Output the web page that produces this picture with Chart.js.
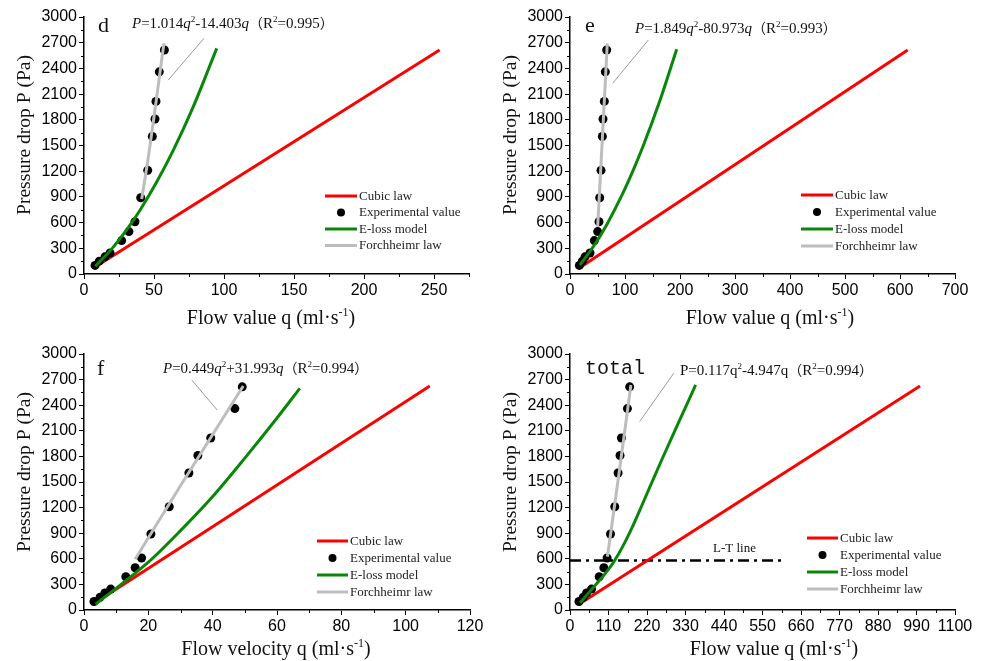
<!DOCTYPE html>
<html>
<head>
<meta charset="utf-8">
<script src="https://cdn.jsdelivr.net/npm/chart.js@4.4.1/dist/chart.umd.min.js"></script>
<style>
  body { margin: 0; background: #fff; }
  #wrap { position: relative; width: 983px; height: 661px; overflow: hidden; }
  canvas { position: absolute; }
</style>
</head>
<body>
<div id="wrap">
  <canvas id="cd" width="490" height="330" style="left:0px;top:0px"></canvas>
  <canvas id="ce" width="493" height="330" style="left:490px;top:0px"></canvas>
  <canvas id="cf" width="490" height="331" style="left:0px;top:330px"></canvas>
  <canvas id="ct" width="493" height="331" style="left:490px;top:330px"></canvas>
</div>
<script>
// ticks
const yTicks = [0, 300, 600, 900, 1200, 1500, 1800, 2100, 2400, 2700, 3000];
const xTicksD = [0, 50, 100, 150, 200, 250];
const xTicksE = [0, 100, 200, 300, 400, 500, 600, 700];
const xTicksF = [0, 20, 40, 60, 80, 100, 120];
const xTicksT = [0, 110, 220, 330, 440, 550, 660, 770, 880, 990, 1100];
const legendLabels = ['Cubic law', 'Experimental value', 'E-loss model', 'Forchheimr law'];

// measured pressure drop (Pa), same for every panel
const expP = [100, 150, 200, 245, 390, 495, 610, 890, 1210, 1605, 1810, 2015, 2360, 2615];

// panel d
const expQD = [7.9, 10.9, 15, 18.6, 26.9, 32.1, 36.4, 40.5, 45.5, 48.8, 50.7, 51.4, 53.8, 57.4];
const cubicQD = [9, 254];
const cubicPD = [93, 2614];
const elossQD = [8, 20, 30, 40, 52, 64, 78, 94.8];
const elossPD = [90, 296, 505, 745, 1076, 1452, 1950, 2634];
const forchQD = [41.2, 46, 50, 57.1];
const forchPD = [875, 1369, 1836, 2693];

// panel e
const expQE = [17, 22.4, 27.3, 36.4, 44.2, 50.3, 52.7, 54, 56.4, 58.8, 60, 62.4, 64.2, 66.7];
const cubicQE = [21, 614];
const cubicPE = [89, 2614];
const elossQE = [18, 45, 67, 94, 115, 133, 164, 194];
const elossPE = [105, 344, 579, 915, 1213, 1494, 2034, 2623];
const forchQE = [50.3, 59, 67.8];
const forchPE = [552, 1600, 2693];

// panel f
const expQF = [3.1, 5, 6.5, 8.3, 13, 15.9, 17.9, 20.8, 26.5, 32.6, 35.4, 39.4, 46.9, 49.2];
const cubicQF = [3.5, 107.5];
const cubicPF = [85, 2625];
const elossQF = [3.6, 20, 30, 40, 50, 60, 67.1];
const elossPF = [67, 560, 930, 1330, 1780, 2250, 2598];
const forchQF = [15.9, 29.8, 49.5];
const forchPF = [594, 1445, 2625];

// panel total
const expQT = [25.6, 37.9, 47.4, 61.6, 83.4, 96.7, 106, 115.7, 127.9, 137.3, 143, 146.9, 164, 170.5];
const cubicQT = [30, 1000];
const cubicPT = [80, 2625];
const elossQT = [28.7, 70, 105, 126, 150, 180, 209, 260, 310, 359];
const elossPT = [86, 280, 450, 570, 740, 990, 1260, 1740, 2195, 2637];
const forchQT = [107, 140, 174];
const forchPT = [625, 1600, 2637];
const ltQ = [0, 611];
const ltP = [580, 580];

const SERIF = '"Liberation Serif", "Times New Roman", serif';
const SANS = '"Liberation Sans", Arial, sans-serif';
const CJK = '"Noto Sans CJK SC", sans-serif';

function pts(qs, ps) {
  return qs.map((q, i) => ({ x: q, y: ps[i] }));
}

function lineSet(label, qs, ps, color, order) {
  return {
    label: label, data: pts(qs, ps), showLine: true,
    borderColor: color, backgroundColor: color, borderWidth: 3,
    pointRadius: 0, cubicInterpolationMode: 'monotone', order: order
  };
}

function minorOf(ticks) {
  const step = ticks[1] - ticks[0];
  return ticks.map(v => v + step / 2);
}

// rich text: [text, style] with style i = italic, s = superscript, c = CJK
function richText(ctx, segs, x, y, size, align) {
  const parts = segs.map(s => {
    let font = size + 'px ' + SERIF, dy = 0;
    if (s[1] === 'i') font = 'italic ' + size + 'px ' + SERIF;
    if (s[1] === 's') { font = Math.round(size * 0.62) + 'px ' + SERIF; dy = -size * 0.4; }
    if (s[1] === 'c') font = Math.round(size * 0.95) + 'px ' + CJK;
    ctx.font = font;
    return { t: s[0], font: font, dy: dy, w: ctx.measureText(s[0]).width };
  });
  const total = parts.reduce((a, p) => a + p.w, 0);
  let cx = align === 'center' ? x - total / 2 : x;
  ctx.textAlign = 'left';
  parts.forEach(p => {
    ctx.font = p.font;
    ctx.fillText(p.t, cx, y + p.dy);
    cx += p.w;
  });
}

const decorInfo = {};

const decor = {
  id: 'decor',
  afterDraw(chart) {
    const o = decorInfo[chart.canvas.id];
    if (!o) return;
    const ctx = chart.ctx, xs = chart.scales.x, ys = chart.scales.y;
    const area = chart.chartArea;
    ctx.save();

    // minor ticks
    ctx.strokeStyle = '#000';
    ctx.lineWidth = 1;
    minorOf(o.xTicks).filter(v => v <= o.xMax).forEach(v => {
      const px = Math.round(xs.getPixelForValue(v)) + 0.5;
      ctx.beginPath(); ctx.moveTo(px, area.bottom); ctx.lineTo(px, area.bottom + 3); ctx.stroke();
    });
    minorOf(yTicks).filter(v => v <= 3000).forEach(v => {
      const py = Math.round(ys.getPixelForValue(v)) + 0.5;
      ctx.beginPath(); ctx.moveTo(area.left, py); ctx.lineTo(area.left - 3, py); ctx.stroke();
    });

    // leader line
    ctx.strokeStyle = '#9a9a9a';
    ctx.lineWidth = 1;
    ctx.beginPath();
    ctx.moveTo(xs.getPixelForValue(o.leader[0][0]), ys.getPixelForValue(o.leader[0][1]));
    ctx.lineTo(xs.getPixelForValue(o.leader[1][0]), ys.getPixelForValue(o.leader[1][1]));
    ctx.stroke();

    ctx.fillStyle = '#111';
    ctx.textBaseline = 'alphabetic';
    // panel label
    ctx.font = o.tagFont;
    ctx.textAlign = 'left';
    ctx.fillText(o.tag, o.tagPos[0], o.tagPos[1]);
    // equation
    richText(ctx, o.eq, o.eqPos[0], o.eqPos[1], 15, 'left');

    // L-T label
    if (o.ltLabel) {
      ctx.font = '13px ' + SERIF;
      ctx.textAlign = 'center';
      ctx.fillText('L-T line', xs.getPixelForValue(o.ltLabel[0]), ys.getPixelForValue(o.ltLabel[1]));
    }

    // axis titles
    richText(ctx, [[o.xTitle + ' (ml\u00b7s'], ['-1', 's'], [')']], o.xTitlePos[0], o.xTitlePos[1], 20, 'center');
    ctx.save();
    ctx.translate(o.yTitlePos[0], o.yTitlePos[1]);
    ctx.rotate(-Math.PI / 2);
    ctx.font = '19.5px ' + SERIF;
    ctx.textAlign = 'center';
    ctx.fillText('Pressure drop P (Pa)', 0, 0);
    ctx.restore();

    // legend
    const L = o.legend;
    const ds = chart.data.datasets;
    for (let i = 0; i < 4; i++) {
      const y = L[2] + i * L[4];
      if (i === 1) {
        ctx.fillStyle = '#000';
        ctx.beginPath(); ctx.arc((L[0] + L[1]) / 2, y, 4, 0, Math.PI * 2); ctx.fill();
      } else {
        ctx.strokeStyle = ds[i].borderColor;
        ctx.lineWidth = 3;
        ctx.beginPath(); ctx.moveTo(L[0], y); ctx.lineTo(L[1], y); ctx.stroke();
      }
      ctx.fillStyle = '#222';
      ctx.font = '13px ' + SERIF;
      ctx.textAlign = 'left';
      ctx.textBaseline = 'middle';
      ctx.fillText(ds[i].label, L[3], y + 0.5);
    }
    ctx.restore();
  }
};

function makeChart(id, p) {
  const cv = document.getElementById(id);
  const W = cv.width, H = cv.height;
  decorInfo[id] = p;
  const datasets = [
    lineSet(legendLabels[0], p.cubicQ, p.cubicP, '#ff0000', 4),
    {
      label: legendLabels[1], data: pts(p.expQ, expP), showLine: false,
      pointRadius: 4.5, pointBackgroundColor: '#000', pointBorderWidth: 0, order: 3
    },
    lineSet(legendLabels[2], p.elossQ, p.elossP, '#0a870a', 2),
    lineSet(legendLabels[3], p.forchQ, p.forchP, '#bdbdbd', 1)
  ];
  if (p.lt) {
    datasets.push({
      label: 'L-T line', data: pts(ltQ, ltP), showLine: true, borderColor: '#000',
      borderWidth: 2.5, borderDash: [11, 5, 3, 5], pointRadius: 0, order: 5
    });
  }
  const tickFont = { family: SANS, size: 16 };
  return new Chart(cv, {
    type: 'scatter',
    data: { datasets: datasets },
    options: {
      responsive: false,
      animation: false,
      devicePixelRatio: 1,
      events: [],
      layout: { padding: { left: 0, top: p.plot[2], right: W - p.plot[1], bottom: 0 } },
      plugins: { legend: { display: false }, tooltip: { enabled: false } },
      scales: {
        x: {
          type: 'linear', min: 0, max: p.xMax,
          afterBuildTicks: s => { s.ticks = p.xTicks.map(v => ({ value: v })); },
          afterFit: s => { s.height = H - p.plot[3]; },
          ticks: { font: tickFont, color: '#000', padding: 2, maxRotation: 0, autoSkip: false, callback: v => String(v) },
          grid: { drawOnChartArea: false, tickLength: 5, color: '#000' },
          border: { color: '#000', width: 1.5 }
        },
        y: {
          type: 'linear', min: 0, max: 3000,
          afterBuildTicks: s => { s.ticks = yTicks.map(v => ({ value: v })); },
          afterFit: s => { s.width = p.plot[0]; },
          ticks: { font: tickFont, color: '#000', padding: 2, autoSkip: false, callback: v => String(v) },
          grid: { drawOnChartArea: false, tickLength: 5, color: '#000' },
          border: { color: '#000', width: 1.5 }
        }
      }
    },
    plugins: [decor]
  });
}

makeChart('cd', {
  plot: [84, 469, 17, 274], xMax: 275, xTicks: xTicksD,
  expQ: expQD, cubicQ: cubicQD, cubicP: cubicPD, elossQ: elossQD, elossP: elossPD, forchQ: forchQD, forchP: forchPD,
  tag: 'd', tagFont: '22px ' + SERIF, tagPos: [98, 32],
  eq: [['P', 'i'], ['=1.014'], ['q', 'i'], ['2', 's'], ['-14.403'], ['q', 'i'], ['\uff08', 'c'], ['R'], ['2', 's'], ['=0.995'], ['\uff09', 'c']],
  eqPos: [132, 28], leader: [[60.2, 2265], [85.7, 2751]],
  xTitle: 'Flow value q', xTitlePos: [271, 324], yTitlePos: [29.5, 135],
  legend: [325, 357, 196, 359, 16.5]
});

makeChart('ce', {
  plot: [80, 465, 17, 274], xMax: 700, xTicks: xTicksE,
  expQ: expQE, cubicQ: cubicQE, cubicP: cubicPE, elossQ: elossQE, elossP: elossPE, forchQ: forchQE, forchP: forchPE,
  tag: 'e', tagFont: '22px ' + SERIF, tagPos: [95, 32],
  eq: [['P', 'i'], ['=1.849'], ['q', 'i'], ['2', 's'], ['-80.973'], ['q', 'i'], ['\uff08', 'c'], ['R'], ['2', 's'], ['=0.993'], ['\uff09', 'c']],
  eqPos: [145, 33], leader: [[77.6, 2226], [142.4, 2731]],
  xTitle: 'Flow value q', xTitlePos: [280, 324], yTitlePos: [25.5, 135],
  legend: [311, 343, 195, 345, 17]
});

makeChart('cf', {
  plot: [84, 470, 24, 280], xMax: 120, xTicks: xTicksF,
  expQ: expQF, cubicQ: cubicQF, cubicP: cubicPF, elossQ: elossQF, elossP: elossPF, forchQ: forchQF, forchP: forchPF,
  tag: 'f', tagFont: '22px ' + SERIF, tagPos: [97, 45],
  eq: [['P', 'i'], ['=0.449'], ['q', 'i'], ['2', 's'], ['+31.993'], ['q', 'i'], ['\uff08', 'c'], ['R'], ['2', 's'], ['=0.994'], ['\uff09', 'c']],
  eqPos: [163, 43], leader: [[33.5, 2695], [41.4, 2344]],
  xTitle: 'Flow velocity q', xTitlePos: [276, 325], yTitlePos: [30, 142],
  legend: [317, 348, 211, 350, 17]
});

makeChart('ct', {
  plot: [80, 465, 24, 280], xMax: 1100, xTicks: xTicksT,
  expQ: expQT, cubicQ: cubicQT, cubicP: cubicPT, elossQ: elossQT, elossP: elossPT, forchQ: forchQT, forchP: forchPT,
  lt: true, ltLabel: [470, 683],
  tag: 'total', tagFont: '20px "Liberation Mono", monospace', tagPos: [95, 44],
  eq: [['P=0.117q'], ['2', 's'], ['-4.947q'], ['\uff08', 'c'], ['R'], ['2', 's'], ['=0.994'], ['\uff09', 'c']],
  eqPos: [190, 45], leader: [[198.8, 2207], [296.3, 2774]],
  xTitle: 'Flow value q', xTitlePos: [284, 325], yTitlePos: [25.5, 142],
  legend: [317, 348, 208, 350, 17]
});
</script>
</body>
</html>
